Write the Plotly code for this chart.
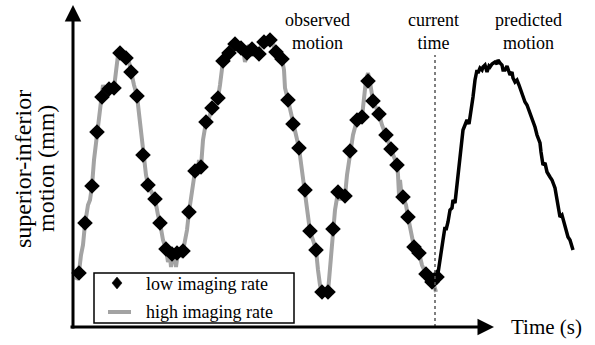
import plotly.graph_objects as go

# Observed motion, high imaging rate (time units arbitrary, motion in arbitrary mm units)
t_high = [3, 6, 8, 10, 12, 15, 17, 19, 21, 24, 26, 28, 30, 32, 34, 36, 39, 41, 43, 45, 47, 49, 51, 53, 56, 58,
          61, 64, 67, 70, 73, 75, 78, 82, 85, 87, 90, 93, 95, 97, 98, 100, 102, 103, 105, 108, 110, 112, 114, 116,
          119, 122, 124, 126, 128, 130, 133, 136, 139, 141, 143, 145, 147, 150, 153, 156, 159, 162, 165, 168, 171,
          172, 174, 176, 179, 182, 184, 186, 188, 191, 194, 197, 199, 201, 203, 206, 209, 211, 212, 215, 217, 220,
          223, 226, 229, 232, 234, 237, 240, 243, 245, 247, 249, 252, 255, 257, 260, 262, 265, 267, 269, 272, 274,
          277, 280, 284, 287, 289, 291, 293, 295, 297, 300, 303, 306, 309, 313, 315, 318, 320, 322, 324, 325, 326,
          327, 328, 330, 333, 335, 338, 341, 343, 346, 349, 353, 356, 359, 361, 363]
m_high = [47, 55, 72, 82, 103, 122, 127, 141, 167, 194, 212, 229, 242, 232, 239, 238, 240, 239, 257, 272, 275, 277,
          267, 270, 265, 255, 242, 231, 202, 172, 152, 142, 135, 128, 112, 104, 87, 78, 65, 71, 60, 72, 69, 60, 75,
          72, 76, 87, 97, 115, 137, 156, 152, 167, 160, 187, 205, 209, 219, 215, 227, 229, 242, 266, 269, 274, 279,
          283, 277, 279, 272, 265, 274, 282, 278, 271, 275, 273, 281, 285, 283, 287, 289, 279, 275, 272, 268, 257,
          239, 227, 217, 203, 192, 179, 157, 137, 117, 96, 87, 77, 57, 42, 35, 33, 35, 57, 98, 117, 135, 127, 132,
          131, 152, 176, 192, 207, 212, 210, 227, 247, 254, 245, 226, 219, 213, 202, 192, 187, 178, 172, 169, 162,
          152, 132, 147, 137, 130, 122, 110, 92, 80, 77, 74, 62, 53, 49, 45, 42, 35]

# Observed motion, low imaging rate
t_low = [6, 12, 19, 24, 29, 36, 41, 47, 53, 58, 64, 70, 75, 82, 87, 93, 99, 104, 110, 116, 122, 128, 133, 139, 145,
         150, 156, 162, 168, 174, 179, 186, 191, 197, 203, 209, 215, 220, 226, 232, 237, 243, 249, 255, 260, 265,
         272, 277, 284, 289, 295, 300, 306, 313, 318, 324, 330, 335, 341, 346, 353, 359, 364]
m_low = [54, 104, 141, 195, 230, 238, 239, 274, 269, 255, 231, 172, 142, 128, 104, 78, 73, 74, 76, 115, 156, 160,
         205, 219, 229, 266, 274, 283, 279, 274, 278, 273, 285, 287, 275, 268, 227, 203, 179, 137, 96, 77, 35, 35,
         98, 135, 131, 176, 207, 210, 246, 226, 213, 192, 178, 162, 130, 110, 80, 74, 53, 45, 50]

# Predicted motion
t_pred = [364, 366, 368, 370, 372, 373, 375, 377, 379, 380, 382, 384, 386, 388, 390, 392, 394, 396, 397, 399, 400,
          402, 404, 405, 407, 409, 410, 412, 414, 416, 417, 419, 422, 424, 425, 427, 429, 430, 432, 434, 437, 439,
          440, 442, 444, 446, 447, 449, 452, 454, 457, 459, 462, 464, 467, 468, 470, 472, 474, 477, 479, 482, 484,
          487, 489, 492, 494, 495, 497, 500]
m_pred = [47, 62, 72, 87, 100, 97, 105, 117, 119, 127, 124, 142, 162, 177, 197, 202, 207, 203, 209, 222, 230, 247,
          257, 254, 259, 257, 260, 262, 255, 261, 260, 263, 265, 263, 267, 264, 262, 257, 257, 261, 252, 255, 249,
          245, 247, 242, 239, 232, 225, 222, 214, 207, 200, 192, 184, 175, 162, 164, 155, 150, 147, 139, 127, 110,
          112, 102, 95, 90, 87, 77]

current_time = 362
legend_labels = ["low imaging rate", "high imaging rate"]

FONT = "Liberation Serif"
GRAY = "#a3a3a3"

fig = go.Figure()
fig.add_trace(go.Scatter(x=t_high, y=m_high, mode="lines", name=legend_labels[1],
                         line=dict(color=GRAY, width=4), showlegend=False))
fig.add_trace(go.Scatter(x=t_low, y=m_low, mode="markers", name=legend_labels[0],
                         marker=dict(symbol="diamond", size=12, color="black"), showlegend=False))
fig.add_trace(go.Scatter(x=t_pred, y=m_pred, mode="lines", name="predicted motion",
                         line=dict(color="black", width=3.5), showlegend=False))

fig.add_shape(type="line", x0=current_time, x1=current_time, y0=0, y1=272,
              line=dict(color="#555555", width=1.5, dash="dot"))

# legend box (drawn as layout shapes)
fig.add_shape(type="rect", x0=21, x1=221, y0=4, y1=54, layer="above",
              line=dict(color="black", width=1.5), fillcolor="white")
fig.add_shape(type="path", path="M 44 50 L 49 44 L 44 38 L 39 44 Z", layer="above",
              line=dict(color="black", width=0.5), fillcolor="black")
fig.add_shape(type="line", x0=35, x1=58, y0=15, y1=15, layer="above",
              line=dict(color=GRAY, width=4))
fig.add_annotation(x=71, y=43, text=legend_labels[0], showarrow=False, xanchor="left", yanchor="middle",
                   font=dict(family=FONT, size=18, color="black"))
fig.add_annotation(x=71, y=15, text=legend_labels[1], showarrow=False, xanchor="left", yanchor="middle",
                   font=dict(family=FONT, size=18, color="black"))

# axes with arrows
fig.add_annotation(x=0, y=322, ax=0, ay=-3, xref="x", yref="y", axref="x", ayref="y",
                   text="", showarrow=True, arrowhead=2, arrowwidth=3, arrowsize=1.1, arrowcolor="black")
fig.add_annotation(x=421, y=0, ax=-4, ay=0, xref="x", yref="y", axref="x", ayref="y",
                   text="", showarrow=True, arrowhead=2, arrowwidth=3, arrowsize=1.1, arrowcolor="black")

fig.add_annotation(x=473, y=0, text="Time (s)", showarrow=False, xanchor="center", yanchor="middle",
                   font=dict(family=FONT, size=21, color="black"))
fig.add_annotation(x=-50, y=158, text="superior-inferior", textangle=-90, showarrow=False,
                   font=dict(family=FONT, size=24, color="black"))
fig.add_annotation(x=-27, y=158, text="motion (mm)", textangle=-90, showarrow=False,
                   font=dict(family=FONT, size=24, color="black"))

for xc, txt in [(244, "observed<br>motion"), (360, "current<br>time"), (455, "predicted<br>motion")]:
    fig.add_annotation(x=xc, y=296, text=txt, showarrow=False, xanchor="center", yanchor="middle",
                       font=dict(family=FONT, size=18, color="black"))

fig.update_layout(
    width=595, height=345, margin=dict(l=0, r=0, t=0, b=0),
    plot_bgcolor="white", paper_bgcolor="white",
    xaxis=dict(range=[-73, 522], visible=False),
    yaxis=dict(range=[-18, 327], visible=False),
    showlegend=False,
)

fig.write_html("out.html")
